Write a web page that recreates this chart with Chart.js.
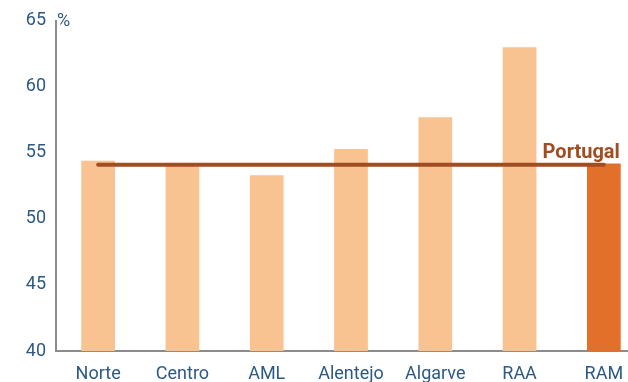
<!DOCTYPE html>
<html>
<head>
<meta charset="utf-8">
<script src="https://cdn.jsdelivr.net/npm/chart.js@4/dist/chart.umd.min.js"></script>
<style>
  html, body { margin: 0; padding: 0; background: #fff; overflow: hidden; }
  #wrap { width: 660px; height: 400px; }
</style>
</head>
<body>
<div id="wrap"><canvas id="chart" width="660" height="400"></canvas></div>
<script>
const regions = ["Norte", "Centro", "AML", "Alentejo", "Algarve", "RAA", "RAM"];
const regionValues = [54.4, 54.1, 53.3, 55.3, 57.7, 63.0, 54.2];
const portugalValues = [54.1, 54.1, 54.1, 54.1, 54.1, 54.1, 54.1];
const yTicks = [40, 45, 50, 55, 60, 65];

const tickColor = "#2d5986";
const lineColor = "#a04d22";

// "%" unit and the "Portugal" label
const labelsPlugin = {
    id: "labels",
    afterDatasetsDraw(chart) {
        const ctx = chart.ctx;
        const y = chart.scales.y;
        const x = chart.scales.x;
        ctx.save();
        ctx.fillStyle = tickColor;
        ctx.font = "18px Roboto";
        ctx.textAlign = "left";
        ctx.textBaseline = "middle";
        ctx.fillText("%", chart.chartArea.left + 1, y.getPixelForValue(65) + 1);
        ctx.fillStyle = lineColor;
        ctx.font = "bold 20px Roboto";
        ctx.textAlign = "right";
        ctx.textBaseline = "alphabetic";
        ctx.fillText("Portugal", x.getPixelForValue(6) + 16, y.getPixelForValue(portugalValues[6]) - 7);
        ctx.restore();
    }
};

new Chart(document.getElementById("chart").getContext("2d"), {
    data: {
        labels: regions,
        datasets: [
            {
                type: "line",
                label: "Portugal",
                data: portugalValues,
                borderColor: lineColor,
                borderWidth: 4,
                borderCapStyle: "round",
                pointRadius: 0,
                order: 0
            },
            {
                type: "bar",
                label: "Regiões",
                data: regionValues,
                backgroundColor: regions.map((r, i) => i === 6 ? "#e2702a" : "#f8c291"),
                barPercentage: 0.4,
                categoryPercentage: 1,
                order: 1
            }
        ]
    },
    options: {
        responsive: false,
        animation: false,
        layout: { padding: { top: 20, right: 14, left: 0, bottom: 0 } },
        plugins: {
            legend: { display: false },
            tooltip: { enabled: false }
        },
        scales: {
            x: {
                grid: { display: false, drawTicks: false },
                border: { color: "#8c8c8c", width: 2 },
                ticks: { color: tickColor, font: { family: "Roboto", size: 18 }, padding: 13, maxRotation: 0 },
                afterFit(s) { s.height = 49; }
            },
            y: {
                min: 40,
                max: 65,
                grid: { display: false, drawTicks: false },
                border: { color: "#8c8c8c", width: 2 },
                afterBuildTicks(s) { s.ticks = yTicks.map(v => ({ value: v })); },
                ticks: { color: tickColor, font: { family: "Roboto", size: 18 }, padding: 10 },
                afterFit(s) { s.width = 56; }
            }
        }
    },
    plugins: [labelsPlugin]
});
</script>
</body>
</html>
